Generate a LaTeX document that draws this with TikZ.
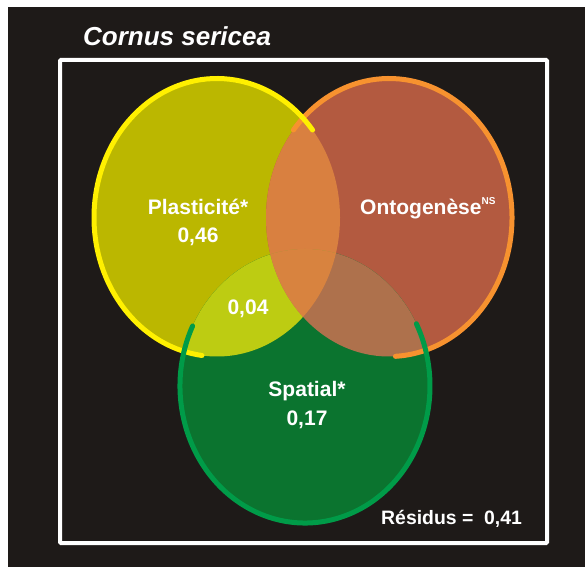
\documentclass[tikz,border=0pt]{standalone}
\usepackage{fontspec}
\setmainfont{Liberation Sans}
\usetikzlibrary{positioning}

\definecolor{bgblack}{HTML}{1E1A18}
\definecolor{yfill}{HTML}{BBB700}
\definecolor{ofill}{HTML}{B35A40}
\definecolor{gfill}{HTML}{0B742F}
\definecolor{yofill}{HTML}{D98040}
\definecolor{ygfill}{HTML}{BDCC12}
\definecolor{ogfill}{HTML}{AE714C}
\definecolor{yogfill}{HTML}{D8833F}
\definecolor{yline}{HTML}{FFF000}
\definecolor{oline}{HTML}{F7922F}
\definecolor{gline}{HTML}{009B48}

\begin{document}
\begin{tikzpicture}[x=1pt, y=1pt,
  lbl/.style={text=white, inner sep=0pt, anchor=base, font=\bfseries\fontsize{21}{25}\selectfont},
  rim/.style={line width=5pt, line cap=round},
  frame/.style={draw=white, line width=4pt, rounded corners=1pt}
]
  \useasboundingbox (0,0) rectangle (585,567);
  \fill[white] (0,0) rectangle (585,567);
  \fill[bgblack] (8,0) rectangle (585,560);
  \draw[frame] (60,507) rectangle (547,24);

  % three sets
  \def\yset{(217,349.5) ellipse [x radius=123, y radius=139]}
  \def\oset{(389,349.5) ellipse [x radius=123, y radius=139]}
  \def\gset{(305,181) ellipse [x radius=125, y radius=137]}

  \fill[yfill] \yset;
  \fill[ofill] \oset;
  \fill[gfill] \gset;
  \begin{scope}
    \clip \yset;
    \fill[yofill] \oset;
    \fill[ygfill] \gset;
  \end{scope}
  \begin{scope}
    \clip \oset;
    \fill[ogfill] \gset;
    \clip \yset;
    \fill[yogfill] \gset;
  \end{scope}

  % outer rims
  \draw[rim, oline] (389,349.5) ++(141:123 and 139) arc[start angle=141, end angle=-87, x radius=123, y radius=139];
  \draw[rim, yline] (217,349.5) ++(39:123 and 139) arc[start angle=39, end angle=263, x radius=123, y radius=139];
  \draw[rim, gline] (305,181) ++(154:125 and 137) arc[start angle=154, end angle=387, x radius=125, y radius=137];

  % labels
  \node[lbl, anchor=base west, font=\bfseries\itshape\fontsize{26}{30}\selectfont] (title) at (83,521) {Cornus sericea};
  \node[lbl] (plast) at (198,352) {Plasticité*};
  \node[lbl] (plastval) at (198,324) {0,46};
  \node[lbl, anchor=base west] (onto) at (360,352) {Ontogenèse\raisebox{10.5pt}{\fontsize{10}{10}\selectfont NS}};
  \node[lbl] (common) at (248,252) {0,04};
  \node[lbl] (spat) at (307,170) {Spatial*};
  \node[lbl] (spatval) at (307,142) {0,17};
  \node[lbl, anchor=base west, font=\bfseries\fontsize{19.4}{24}\selectfont] (resid) at (381,43) {Résidus =\ \ 0,41};
\end{tikzpicture}
\end{document}
